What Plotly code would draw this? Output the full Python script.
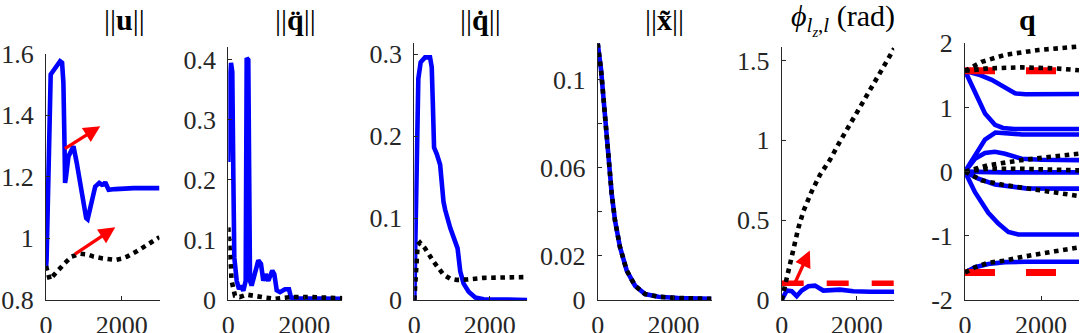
import plotly.graph_objects as go

# ---------------- data ----------------
# Panel 1: ||u||
u_blue_t = [0, 15, 124, 240, 372, 425, 460, 490, 504, 530, 593, 681, 726, 814, 947, 1062, 1100, 1168, 1300, 1407, 1478, 1530, 1566, 1610, 1655, 1832, 2319, 3000]
u_blue_v = [0.905, 0.93, 1.532, 1.553, 1.575, 1.57, 1.505, 1.30, 1.18, 1.20, 1.266, 1.293, 1.299, 1.244, 1.147, 1.066, 1.062, 1.10, 1.168, 1.18, 1.174, 1.175, 1.182, 1.17, 1.158, 1.16, 1.163, 1.163]
u_black_t = [0, 50, 100, 200, 327, 500, 681, 903, 1100, 1257, 1500, 1700, 1832, 2000, 2142, 2400, 2584, 2800, 3000]
u_black_v = [0.91, 0.88, 0.866, 0.88, 0.898, 0.92, 0.941, 0.95, 0.948, 0.941, 0.935, 0.93, 0.93, 0.934, 0.941, 0.958, 0.973, 0.988, 1.004]
u_arrow_tail_t = [460, 726]
u_arrow_tail_v = [1.288, 0.946]
u_arrow_head_t = [1434, 1832]
u_arrow_head_v = [1.364, 1.036]

# Panel 2: ||q_ddot||
qdd_blue_t = [0, 30, 71, 105, 132, 158, 221, 282, 334, 395, 458, 484, 526, 571, 614, 703, 790, 860, 921, 984, 1054, 1158, 1211, 1274, 1360, 1492, 1597, 1650, 1842, 3000]
qdd_blue_v = [0.23, 0.36, 0.395, 0.38, 0.21, 0.071, 0.032, 0.018, 0.024, 0.0155, 0.032, 0.403, 0.40, 0.032, 0.024, 0.049, 0.066, 0.06, 0.032, 0.043, 0.032, 0.049, 0.043, 0.016, 0.013, 0.018, 0.018, 0.004, 0.003, 0.002]
qdd_black_t = [0, 45, 88, 176, 300, 484, 703, 965, 1228, 1667, 2105, 3000]
qdd_black_v = [0.121, 0.071, 0.032, 0.007, 0.005, 0.009, 0.006, 0.004, 0.002, 0.005, 0.005, 0.003]

# Panel 3: ||q_dot||
qd_blue_t = [0, 30, 62, 107, 169, 285, 418, 463, 490, 525, 597, 686, 775, 819, 953, 1086, 1149, 1220, 1309, 1443, 1620, 1843, 3000]
qd_blue_v = [0, 0.1, 0.2, 0.27, 0.29, 0.296, 0.296, 0.284, 0.243, 0.186, 0.178, 0.165, 0.12, 0.11, 0.088, 0.071, 0.063, 0.035, 0.02, 0.01, 0.003, 0.001, 0.0]
qd_black_t = [0, 40, 89, 152, 285, 508, 775, 953, 1131, 1398, 1843, 3000]
qd_black_v = [0, 0.04, 0.067, 0.07, 0.063, 0.047, 0.031, 0.026, 0.0245, 0.025, 0.027, 0.028]

# Panel 4: ||x_tilde||
x_blue_t = [0, 16, 87, 148, 211, 280, 369, 456, 588, 765, 984, 1248, 1599, 2127, 3000]
x_blue_v = [0.1166, 0.1147, 0.1048, 0.0926, 0.079, 0.0635, 0.0483, 0.0361, 0.024, 0.0134, 0.0065, 0.0027, 0.0015, 0.0009, 0.0005]
x_black_t = [0, 16, 87, 148, 211, 280, 369, 456, 588, 765, 984, 1248, 1599, 2127, 3000]
x_black_v = [0.1166, 0.1147, 0.1048, 0.0926, 0.079, 0.0635, 0.0483, 0.0361, 0.024, 0.0134, 0.0065, 0.0027, 0.0015, 0.0009, 0.0005]

# Panel 5: phi
phi_blue_t = [0, 133, 267, 400, 533, 711, 888, 1110, 1555, 1911, 2355, 3000]
phi_blue_v = [0, 0.059, 0.055, 0.024, 0.059, 0.086, 0.09, 0.059, 0.065, 0.055, 0.052, 0.052]
phi_black_t = [0, 177, 310, 443, 577, 800, 1021, 1288, 1555, 1910, 2266, 2621, 3000]
phi_black_v = [0, 0.18, 0.326, 0.45, 0.555, 0.68, 0.784, 0.878, 0.993, 1.139, 1.284, 1.43, 1.575]
phi_limit_t = [0, 3000]
phi_limit_v = [0.105, 0.105]
phi_arrow_tail = (340, 0.10)
phi_arrow_head = (750, 0.31)

# Panel 6: q (joint trajectories)
q_blue_t = [
    [0, 350, 703, 1053, 1316, 1600, 2000, 3000],
    [0, 176, 350, 526, 789, 1000, 1300, 2000, 3000],
    [0, 263, 526, 800, 1100, 1500, 3000],
    [0, 263, 526, 789, 1053, 1491, 2000, 3000],
    [0, 500, 1000, 3000],
    [0, 350, 789, 1228, 1600, 3000],
    [0, 263, 614, 877, 1140, 1403, 2000, 3000],
    [0, 263, 614, 1053, 1600, 3000],
]
q_blue_v = [
    [1.571, 1.515, 1.43, 1.30, 1.22, 1.205, 1.21, 1.21],
    [1.571, 1.35, 1.09, 0.906, 0.73, 0.68, 0.665, 0.665, 0.665],
    [0, 0.26, 0.50, 0.61, 0.60, 0.58, 0.58],
    [0, 0.2, 0.29, 0.31, 0.28, 0.20, 0.185, 0.18],
    [0, -0.01, -0.012, -0.012],
    [0, -0.11, -0.2, -0.24, -0.26, -0.265],
    [0, -0.32, -0.64, -0.81, -0.94, -0.98, -0.98, -0.98],
    [-1.571, -1.49, -1.44, -1.41, -1.405, -1.405],
]
q_black_t = [
    [0, 439, 1053, 1930, 3000],
    [0, 614, 1491, 2368, 3000],
    [0, 614, 1491, 2368, 3000],
    [0, 614, 1491, 2368, 3000],
    [0, 439, 1053, 1930, 2807, 3000],
    [0, 263, 614, 1053, 1491, 1930, 2368, 3000],
]
q_black_v = [
    [1.571, 1.71, 1.82, 1.895, 1.95],
    [1.571, 1.61, 1.625, 1.61, 1.58],
    [0, 0.1, 0.18, 0.23, 0.28],
    [0, 0.047, 0.045, 0.03, 0.02],
    [0, -0.136, -0.21, -0.29, -0.37, -0.38],
    [-1.571, -1.49, -1.42, -1.386, -1.33, -1.28, -1.24, -1.18],
]
q_limit_t = [0, 3000]
q_limit_upper = [1.5708, 1.5708]
q_limit_lower = [-1.5708, -1.5708]

titles = ["||<b>u</b>||", "||<b>q̈</b>||", "||<b>q̇</b>||", "||<b>x̃</b>||",
          "<i>ϕ</i><sub><i>l</i><sub><i>z</i></sub>,<i>l</i></sub> (rad)", "<b>q</b>"]
x_ticks = [0, 2000]
y_tickvals = [
    [0.8, 1, 1.2, 1.4, 1.6],
    [0, 0.1, 0.2, 0.3, 0.4],
    [0, 0.1, 0.2, 0.3],
    [0, 0.02, 0.06, 0.1],
    [0, 0.5, 1, 1.5],
    [-2, -1, 0, 1, 2],
]
y_ticktext = [
    ["0.8", "1", "1.2", "1.4", "1.6"],
    ["0", "0.1", "0.2", "0.3", "0.4"],
    ["0", "0.1", "0.2", "0.3"],
    ["0", "0.02", "0.06", "0.1"],
    ["0", "0.5", "1", "1.5"],
    ["-2", "-1", "0", "1", "2"],
]
y_minor_ticks = [[], [], [], [0.04, 0.08], [], []]
y_ranges = [[0.8, 1.6], [0, 0.422], [0, 0.3135], [0, 0.1166], [0, 1.586], [-2, 2]]

# ---------------- layout geometry (pixels) ----------------
W, H = 1080, 333
x_px = [(46, 159.5), (228.3, 342.3), (414.3, 527.3), (597.7, 711.5), (781.7, 894.2), (965, 1079)]
top_px = [53.5, 46.7, 43.0, 43.3, 46.7, 43.3]
bottom_px = 300
title_dx = [22, 10, 10, 10, 5, 5]

BLUE = "rgb(0,0,255)"
LW = 4.6
FONT = "Liberation Serif"
AXC = "#262626"

fig = go.Figure()


def add_line(i, t, v, color, width, dash=None):
    fig.add_trace(go.Scatter(
        x=t, y=v, mode="lines", xaxis=f"x{i}" if i > 1 else "x", yaxis=f"y{i}" if i > 1 else "y",
        line=dict(color=color, width=width, dash=dash), showlegend=False, hoverinfo="skip"))


# panel 1
add_line(1, u_blue_t, u_blue_v, BLUE, LW)
add_line(1, u_black_t, u_black_v, "black", LW, "dot")
# panel 2
add_line(2, qdd_blue_t, qdd_blue_v, BLUE, LW)
add_line(2, qdd_black_t, qdd_black_v, "black", LW, "dot")
# panel 3
add_line(3, qd_blue_t, qd_blue_v, BLUE, LW)
add_line(3, qd_black_t, qd_black_v, "black", LW, "dot")
# panel 4
add_line(4, x_blue_t, x_blue_v, BLUE, LW)
add_line(4, x_black_t, x_black_v, "black", LW, "dot")
# panel 5
add_line(5, phi_blue_t, phi_blue_v, BLUE, LW)
add_line(5, phi_limit_t, phi_limit_v, "red", 5.5, "22px,23px")
add_line(5, phi_black_t, phi_black_v, "black", LW, "dot")
# panel 6
for t, v in zip(q_blue_t, q_blue_v):
    add_line(6, t, v, BLUE, LW)
add_line(6, q_limit_t, q_limit_upper, "red", 7, "30px,31px")
add_line(6, q_limit_t, q_limit_lower, "red", 7, "30px,31px")
for t, v in zip(q_black_t, q_black_v):
    add_line(6, t, v, "black", LW, "dot")

layout = dict(
    template="none",
    width=W, height=H, margin=dict(l=0, r=0, t=0, b=0, pad=0),
    paper_bgcolor="white", plot_bgcolor="white",
    font=dict(family=FONT, size=26, color=AXC),
)
annotations = []
for k in range(6):
    i = k + 1
    xs = "" if i == 1 else str(i)
    x0, x1 = x_px[k]
    layout[f"xaxis{xs}"] = dict(
        domain=[x0 / W, x1 / W], range=[0, 3000], anchor=f"y{xs}", automargin=False,
        tickvals=x_ticks, ticktext=[str(v) for v in x_ticks], ticks="inside", ticklen=4,
        tickcolor=AXC, tickwidth=1, showline=True, linecolor=AXC, linewidth=1,
        showgrid=False, zeroline=False, tickfont=dict(family=FONT, size=26, color=AXC),
        ticklabelstandoff=2,
    )
    ydict = dict(
        domain=[(H - bottom_px) / H, (H - top_px[k]) / H], range=y_ranges[k], anchor=f"x{xs}",
        automargin=False,
        tickvals=y_tickvals[k], ticktext=y_ticktext[k], ticks="inside", ticklen=4,
        tickcolor=AXC, tickwidth=1, showline=True, linecolor=AXC, linewidth=1,
        showgrid=False, zeroline=False, tickfont=dict(family=FONT, size=26, color=AXC),
        ticklabelstandoff=6,
    )
    if y_minor_ticks[k]:
        ydict["minor"] = dict(tickvals=y_minor_ticks[k], ticks="inside", ticklen=4,
                              tickcolor=AXC, tickwidth=1, showgrid=False)
    layout[f"yaxis{xs}"] = ydict
    annotations.append(dict(
        text=titles[k], xref="paper", yref="paper", x=((x0 + x1) / 2 + title_dx[k]) / W,
        y=(H - 19) / H, xanchor="center", yanchor="middle", showarrow=False,
        font=dict(family=FONT, size=30, color="black")))

# red arrows
for tt, tv, ht, hv in zip(u_arrow_tail_t, u_arrow_tail_v, u_arrow_head_t, u_arrow_head_v):
    annotations.append(dict(x=ht, y=hv, ax=tt, ay=tv, xref="x", yref="y", axref="x", ayref="y",
                            text="", showarrow=True, arrowhead=2, arrowsize=1, arrowwidth=3.3,
                            arrowcolor="red", standoff=0, startstandoff=0))
annotations.append(dict(x=phi_arrow_head[0], y=phi_arrow_head[1], ax=phi_arrow_tail[0], ay=phi_arrow_tail[1],
                        xref="x5", yref="y5", axref="x5", ayref="y5", text="", showarrow=True,
                        arrowhead=2, arrowsize=1, arrowwidth=3.3, arrowcolor="red", standoff=0,
                        startstandoff=0))
layout["annotations"] = annotations
fig.update_layout(**layout)
fig.write_html("out.html", config={"displayModeBar": False, "staticPlot": True},
               post_script="document.body.style.margin='0';document.body.style.overflow='hidden';")
